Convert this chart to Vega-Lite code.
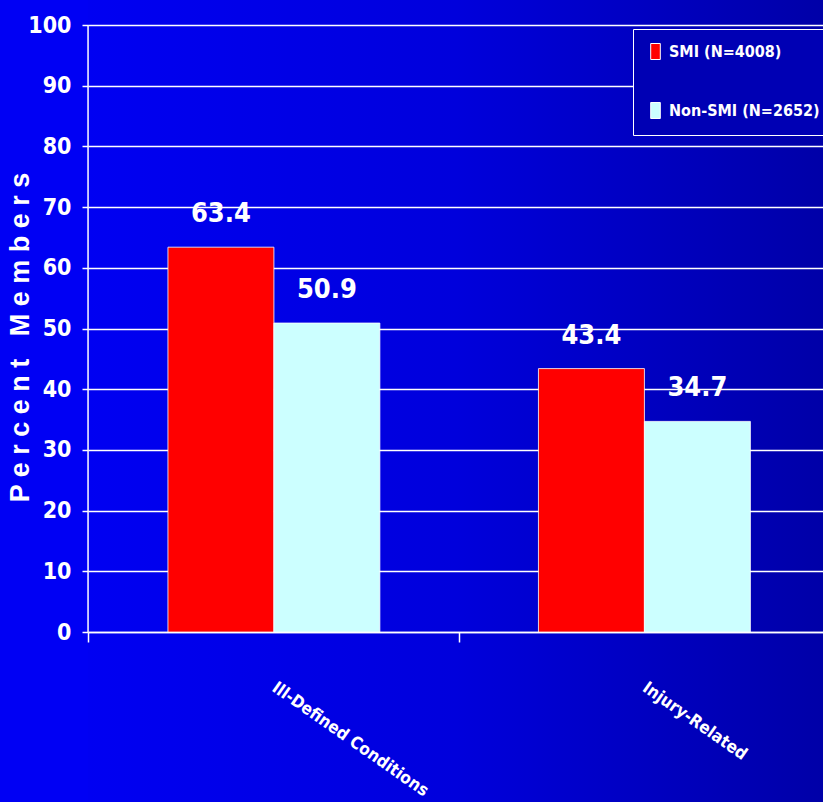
{
  "$schema": "https://vega.github.io/schema/vega-lite/v6.json",
  "autosize": {"type": "none"},
  "padding": {"left": 88, "top": 0, "right": 0, "bottom": 0},
  "width": 735,
  "height": 802,
  "background": "#0000f4",
  "config": {
    "font": "DejaVu Sans Condensed, Liberation Sans Narrow, sans-serif",
    "view": {
      "stroke": null,
      "fill": {
        "gradient": "linear",
        "stops": [
          {"offset": 0, "color": "#0000f2"},
          {"offset": 0.5, "color": "#0000dc"},
          {"offset": 1, "color": "#0000a8"}
        ]
      }
    },
    "axis": {
      "labelColor": "white",
      "labelFontWeight": "bold",
      "titleColor": "white",
      "tickColor": "white",
      "domainColor": "white",
      "gridColor": "white"
    }
  },
  "datasets": {
    "rates": [
      {"cond": "Ill-Defined Conditions", "group": "SMI (N=4008)", "pct": 63.4},
      {"cond": "Ill-Defined Conditions", "group": "Non-SMI (N=2652)", "pct": 50.9},
      {"cond": "Injury-Related", "group": "SMI (N=4008)", "pct": 43.4},
      {"cond": "Injury-Related", "group": "Non-SMI (N=2652)", "pct": 34.7}
    ],
    "yline": [{"lo": 0, "hi": 100}]
  },
  "layer": [
    {
      "data": {"name": "rates"},
      "mark": {"type": "bar", "stroke": "white", "strokeWidth": 1, "strokeOpacity": 0.8},
      "encoding": {
        "x": {
          "field": "cond",
          "type": "nominal",
          "sort": null,
          "scale": {"paddingInner": 0.428, "paddingOuter": 0.2059, "align": 0.524},
          "axis": {
            "title": null,
            "offset": -170,
            "domainWidth": 1.5,
            "tickOffset": -185.5,
            "tickSize": 10,
            "tickWidth": 1.5,
            "labelAngle": 35,
            "labelAlign": "left",
            "labelBaseline": "top",
            "labelPadding": 37,
            "labelOffset": 189.5,
            "labelFontSize": 17,
            "labelLimit": 400
          }
        },
        "y": {
          "field": "pct",
          "type": "quantitative",
          "scale": {"domain": [-28.0, 104.12], "nice": false, "zero": false},
          "axis": {
            "title": "P e r c e n t \u00a0 M e m b e r s",
            "titleFontSize": 27,
            "titleFontWeight": "bold",
            "titleFont": "Liberation Sans, Arial, sans-serif",
            "titleX": -68,
            "titleY": 337,
            "titleAngle": -90,
            "titleAlign": "center",
            "titleBaseline": "middle",
            "values": [0, 10, 20, 30, 40, 50, 60, 70, 80, 90, 100],
            "domain": false,
            "grid": true,
            "gridWidth": 1.5,
            "tickSize": 6,
            "tickWidth": 1.5,
            "labelPadding": 11,
            "labelFontSize": 23
          }
        },
        "xOffset": {
          "field": "group",
          "type": "nominal",
          "sort": ["SMI (N=4008)", "Non-SMI (N=2652)"],
          "scale": {"paddingInner": 0, "paddingOuter": 0}
        },
        "color": {
          "field": "group",
          "type": "nominal",
          "sort": ["SMI (N=4008)", "Non-SMI (N=2652)"],
          "scale": {"domain": ["SMI (N=4008)", "Non-SMI (N=2652)"], "range": ["#ff0000", "#ccffff"]},
          "legend": {
            "title": null,
            "orient": "none",
            "legendX": 545,
            "legendY": 29,
            "padding": 14,
            "fillColor": "#0000b4",
            "strokeColor": "white",
            "symbolType": "M-0.6,-1H0.6V1H-0.6Z",
            "symbolSize": 256,
            "symbolStrokeColor": "white",
            "symbolStrokeWidth": 1,
            "labelColor": "white",
            "labelFontSize": 16,
            "labelFontWeight": "bold",
            "labelOffset": 5,
            "labelLimit": 400,
            "rowPadding": 38
          }
        }
      }
    },
    {
      "data": {"name": "rates"},
      "mark": {"type": "text", "color": "white", "fontSize": 27, "fontWeight": "bold", "baseline": "alphabetic", "dy": -25},
      "encoding": {
        "x": {"field": "cond", "type": "nominal", "sort": null},
        "y": {"field": "pct", "type": "quantitative"},
        "xOffset": {"field": "group", "type": "nominal", "sort": ["SMI (N=4008)", "Non-SMI (N=2652)"]},
        "text": {"field": "pct", "type": "quantitative", "format": ".1f"}
      }
    },
    {
      "data": {"name": "yline"},
      "mark": {"type": "rule", "color": "white", "strokeWidth": 1.5},
      "encoding": {
        "x": {"datum": "Ill-Defined Conditions", "type": "nominal", "bandPosition": -0.377},
        "y": {"field": "lo", "type": "quantitative"},
        "y2": {"field": "hi"}
      }
    }
  ]
}
